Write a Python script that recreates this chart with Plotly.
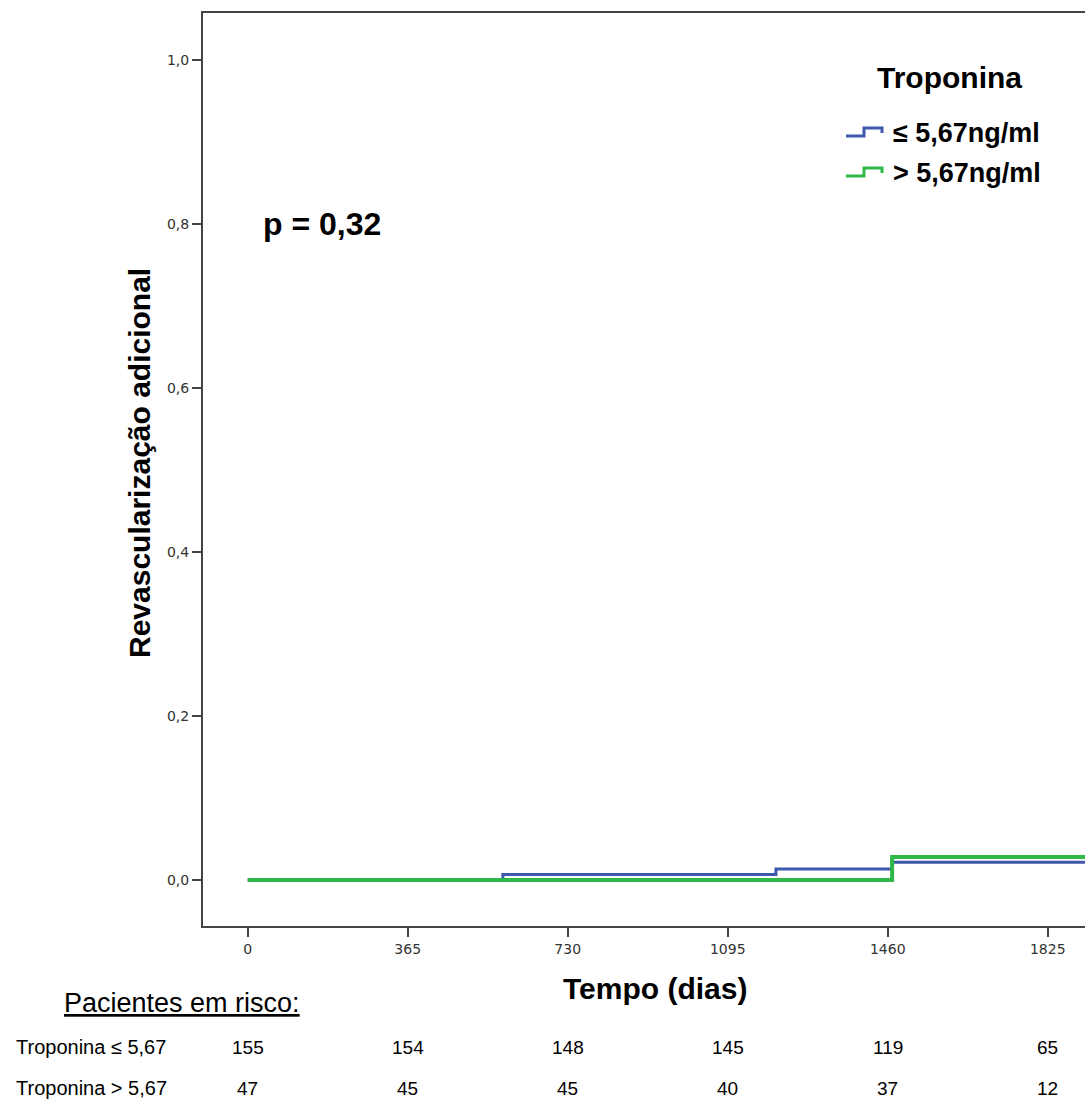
import plotly.graph_objects as go

# ---- data ----
blue_x = [0, 582, 582, 1205, 1205, 1470, 1470, 2000]
blue_y = [0.0, 0.0, 0.0068, 0.0068, 0.0135, 0.0135, 0.0215, 0.0215]
green_x = [0, 1470, 1470, 2000]
green_y = [0.0, 0.0, 0.028, 0.028]

x_ticks = [0, 365, 730, 1095, 1460, 1825]
x_tick_labels = ["0", "365", "730", "1095", "1460", "1825"]
y_ticks = [0.0, 0.2, 0.4, 0.6, 0.8, 1.0]
y_tick_labels = ["0,0", "0,2", "0,4", "0,6", "0,8", "1,0"]

risk_low = [155, 154, 148, 145, 119, 65]
risk_high = [47, 45, 45, 40, 37, 12]

series_names = ["≤ 5,67ng/ml", "> 5,67ng/ml"]
row_labels = ["Troponina ≤ 5,67", "Troponina > 5,67"]

BLUE = "#3E58AC"
GREEN = "#2EB848"

W, H = 1085, 1099
L, T, B = 203, 13, 926


def px(x):
    return (x - L) / (W - L)


def py(y):
    return (B - y) / (B - T)


fig = go.Figure()
fig.add_trace(go.Scatter(x=blue_x, y=blue_y, mode="lines", line=dict(color=BLUE, width=3),
                         name=series_names[0], showlegend=False))
fig.add_trace(go.Scatter(x=green_x, y=green_y, mode="lines", line=dict(color=GREEN, width=4),
                         name=series_names[1], showlegend=False))

ann = []
# p-value
ann.append(dict(x=px(261), y=py(224), xref="paper", yref="paper", text="<b>p = 0,32</b>",
                showarrow=False, xanchor="left", yanchor="middle",
                font=dict(family="Liberation Sans", size=32, color="#000")))
# legend title
ann.append(dict(x=px(949), y=py(77), xref="paper", yref="paper", text="<b>Troponina</b>",
                showarrow=False, xanchor="center", yanchor="middle",
                font=dict(family="Liberation Sans", size=30, color="#000")))
# legend items
shapes = []
for i, (name, col) in enumerate(zip(series_names, [BLUE, GREEN])):
    yc = 133 + 40 * i
    ann.append(dict(x=px(891), y=py(yc), xref="paper", yref="paper", text="<b>" + name + "</b>",
                    showarrow=False, xanchor="left", yanchor="middle",
                    font=dict(family="Liberation Sans", size=27, color="#000")))
    ylow, yhigh = yc + 3, yc - 5
    path = (f"M {px(846)},{py(ylow)} L {px(864)},{py(ylow)} L {px(864)},{py(yhigh)} "
            f"L {px(882)},{py(yhigh)} L {px(882)},{py(yhigh + 5)}")
    shapes.append(dict(type="path", xref="paper", yref="paper", path=path,
                       line=dict(color=col, width=3)))

# axis titles
ann.append(dict(x=px(655), y=py(988), xref="paper", yref="paper", text="<b>Tempo (dias)</b>",
                showarrow=False, xanchor="center", yanchor="middle",
                font=dict(family="Liberation Sans", size=30, color="#000")))
ann.append(dict(x=-(L - 139) / (W - L), y=py(463), xref="paper", yref="paper",
                text="<b>Revascularização adicional</b>", textangle=-90,
                showarrow=False, xanchor="center", yanchor="middle",
                font=dict(family="Liberation Sans", size=30, color="#000")))

# risk table
ann.append(dict(x=px(62), y=py(1003), xref="paper", yref="paper", text="<u>Pacientes em risco:</u>",
                showarrow=False, xanchor="left", yanchor="middle",
                font=dict(family="Liberation Sans", size=27, color="#000")))
for r, (lab, vals) in enumerate(zip(row_labels, [risk_low, risk_high])):
    yc = 1047 + 41 * r
    ann.append(dict(x=px(14), y=py(yc), xref="paper", yref="paper", text=lab,
                    showarrow=False, xanchor="left", yanchor="middle",
                    font=dict(family="Liberation Sans", size=20, color="#000")))
    for xv, v in zip(x_ticks, vals):
        ann.append(dict(x=xv, y=py(yc), xref="x", yref="paper", text=str(v),
                        showarrow=False, xanchor="center", yanchor="middle",
                        font=dict(family="Liberation Sans", size=19, color="#000")))

fig.update_layout(
    width=W, height=H,
    margin=dict(l=L, r=0, t=T, b=H - B),
    paper_bgcolor="white", plot_bgcolor="white",
    showlegend=False,
    annotations=ann, shapes=shapes,
    xaxis=dict(range=[-102, 1910], tickvals=x_ticks, ticktext=x_tick_labels,
               showgrid=False, zeroline=False, showline=True, linecolor="#444", linewidth=2,
               mirror=True, ticks="outside", ticklen=9, tickwidth=2, tickcolor="#444",
               tickfont=dict(family="DejaVu Sans", size=14, color="#333")),
    yaxis=dict(range=[-0.0561, 1.0573], tickvals=y_ticks, ticktext=y_tick_labels,
               showgrid=False, zeroline=False, showline=True, linecolor="#444", linewidth=2,
               ticks="outside", ticklen=9, tickwidth=2, tickcolor="#444",
               tickfont=dict(family="DejaVu Sans", size=14, color="#333")),
)

fig.write_html("out.html")
